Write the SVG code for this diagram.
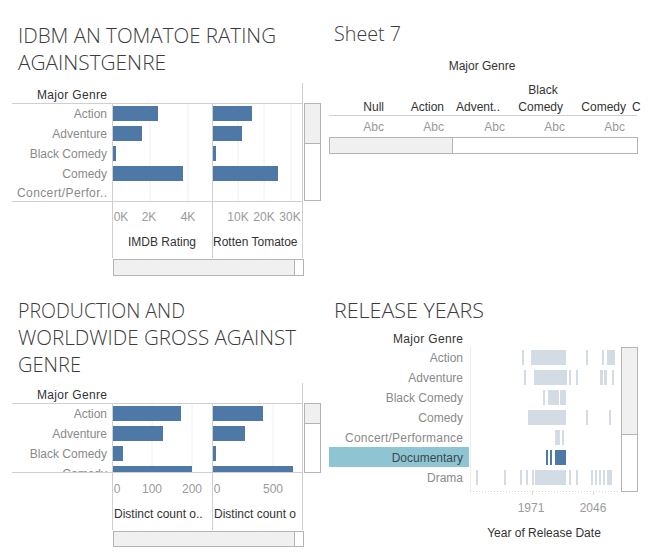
<svg xmlns="http://www.w3.org/2000/svg" width="649" height="559" viewBox="0 0 649 559">
<style>
text{font-family:"Liberation Sans",Arial,sans-serif;font-size:12px}
.title{font-family:"Open Sans","Liberation Sans",Arial,sans-serif;font-weight:300;font-size:21px;fill:#3c3c3c}
.hdr{fill:#333}
.row{fill:#8a8a8a;text-anchor:end}
.ax{fill:#9a9a9a;text-anchor:middle}
.abc{fill:#9a9a9a;text-anchor:end}
.div{stroke:#cfcfcf;stroke-width:1;fill:none}
.grid{stroke:#f0f0f0;stroke-width:1}
.bar{fill:#4e79a7}
.lb{fill:#d3dce4}
.sb{fill:#fff;stroke:#b4b4b4;stroke-width:1}
.th{fill:#f0f0f0;stroke:#b4b4b4;stroke-width:1}
</style>
<defs>
<clipPath id="cpTL"><rect x="213" y="225" width="89.5" height="30"/></clipPath>
<clipPath id="cpBLrows"><rect x="0" y="404" width="303" height="68"/></clipPath>
<clipPath id="cpBL"><rect x="213" y="500" width="89.5" height="30"/></clipPath>
</defs>
<rect width="649" height="559" fill="#fff"/>

<g id="titles">
<text class="title" x="18" y="43" textLength="258" lengthAdjust="spacingAndGlyphs">IDBM AN TOMATOE RATING</text>
<text class="title" x="18" y="70" textLength="148" lengthAdjust="spacingAndGlyphs">AGAINSTGENRE</text>
<text class="title" x="334" y="41" textLength="67" lengthAdjust="spacingAndGlyphs">Sheet 7</text>
<text class="title" x="18" y="318" textLength="167" lengthAdjust="spacingAndGlyphs">PRODUCTION AND</text>
<text class="title" x="18" y="345" textLength="278" lengthAdjust="spacingAndGlyphs">WORLDWIDE GROSS AGAINST</text>
<text class="title" x="18" y="372" textLength="63" lengthAdjust="spacingAndGlyphs">GENRE</text>
<text class="title" x="334" y="318" textLength="150" lengthAdjust="spacingAndGlyphs">RELEASE YEARS</text>
</g>

<g id="chart-imdb-tomato">
<line class="grid" x1="150" y1="103" x2="150" y2="201"/>
<line class="grid" x1="188" y1="103" x2="188" y2="201"/>
<line class="grid" x1="238" y1="103" x2="238" y2="201"/>
<line class="grid" x1="264" y1="103" x2="264" y2="201"/>
<line class="grid" x1="291" y1="103" x2="291" y2="201"/>
<text class="hdr" x="107" y="99" text-anchor="end" textLength="70">Major Genre</text>
<line class="div" x1="12" y1="103.5" x2="303" y2="103.5"/>
<line class="div" x1="12" y1="201.5" x2="303" y2="201.5"/>
<line class="div" x1="112.5" y1="103" x2="112.5" y2="258"/>
<line class="div" x1="212.5" y1="103" x2="212.5" y2="258"/>
<line class="div" x1="302.5" y1="83" x2="302.5" y2="258"/>
<text class="row" x="107" y="118">Action</text>
<text class="row" x="107" y="138">Adventure</text>
<text class="row" x="107" y="158">Black Comedy</text>
<text class="row" x="107" y="178">Comedy</text>
<text class="row" x="107" y="197" textLength="90">Concert/Perfor..</text>
<rect class="bar" x="113" y="106" width="45" height="15"/>
<rect class="bar" x="113" y="126" width="29" height="15"/>
<rect class="bar" x="113" y="146" width="3" height="15"/>
<rect class="bar" x="113" y="166" width="70" height="15"/>
<rect class="bar" x="213" y="106" width="39" height="15"/>
<rect class="bar" x="213" y="126" width="29" height="15"/>
<rect class="bar" x="213" y="146" width="3" height="15"/>
<rect class="bar" x="213" y="166" width="65" height="15"/>
<text class="ax" x="121" y="221">0K</text>
<text class="ax" x="149" y="221">2K</text>
<text class="ax" x="188" y="221">4K</text>
<text class="ax" x="238" y="221">10K</text>
<text class="ax" x="264" y="221">20K</text>
<text class="ax" x="290" y="221">30K</text>
<text class="hdr" x="162" y="246" text-anchor="middle">IMDB Rating</text>
<text class="hdr" x="213" y="246" clip-path="url(#cpTL)">Rotten Tomatoe</text>
<rect class="sb" x="113.5" y="259.5" width="190" height="16"/>
<rect class="th" x="113.5" y="259.5" width="181" height="16"/>
<rect class="sb" x="304.5" y="103.5" width="16" height="97"/>
<rect class="th" x="304.5" y="103.5" width="16" height="40"/>
</g>

<g id="sheet7">
<text class="hdr" x="482" y="70" text-anchor="middle">Major Genre</text>
<text class="hdr" x="543" y="94" text-anchor="middle">Black</text>
<text class="hdr" x="384" y="111" text-anchor="end">Null</text>
<text class="hdr" x="444" y="111" text-anchor="end">Action</text>
<text class="hdr" x="500" y="111" text-anchor="end">Advent..</text>
<text class="hdr" x="563" y="111" text-anchor="end">Comedy</text>
<text class="hdr" x="626" y="111" text-anchor="end">Comedy</text>
<text class="hdr" x="632" y="111">C</text>
<line class="div" x1="329" y1="115.5" x2="637" y2="115.5"/>
<text class="abc" x="384" y="131">Abc</text>
<text class="abc" x="444" y="131">Abc</text>
<text class="abc" x="505" y="131">Abc</text>
<text class="abc" x="565" y="131">Abc</text>
<text class="abc" x="625" y="131">Abc</text>
<rect class="sb" x="329.5" y="137.5" width="308" height="16"/>
<rect class="th" x="329.5" y="137.5" width="123" height="16"/>
</g>

<g id="chart-production-gross">
<line class="grid" x1="152" y1="403" x2="152" y2="472"/>
<line class="grid" x1="192" y1="403" x2="192" y2="472"/>
<line class="grid" x1="273" y1="403" x2="273" y2="472"/>
<text class="hdr" x="107" y="399" text-anchor="end" textLength="70">Major Genre</text>
<line class="div" x1="12" y1="403.5" x2="303" y2="403.5"/>
<g clip-path="url(#cpBLrows)">
<text class="row" x="107" y="418">Action</text>
<text class="row" x="107" y="438">Adventure</text>
<text class="row" x="107" y="458">Black Comedy</text>
<text class="row" x="107" y="478">Comedy</text>
<rect class="bar" x="113" y="406" width="68" height="15"/>
<rect class="bar" x="113" y="426" width="50" height="15"/>
<rect class="bar" x="113" y="446" width="10" height="15"/>
<rect class="bar" x="113" y="466" width="79" height="15"/>
<rect class="bar" x="213" y="406" width="50" height="15"/>
<rect class="bar" x="213" y="426" width="32" height="15"/>
<rect class="bar" x="213" y="446" width="3" height="15"/>
<rect class="bar" x="213" y="466" width="80" height="15"/>
</g>
<line class="div" x1="12" y1="472.5" x2="303" y2="472.5"/>
<line class="div" x1="112.5" y1="403" x2="112.5" y2="530"/>
<line class="div" x1="212.5" y1="403" x2="212.5" y2="530"/>
<line class="div" x1="302.5" y1="383" x2="302.5" y2="530"/>
<text class="ax" x="117" y="493">0</text>
<text class="ax" x="152" y="493">100</text>
<text class="ax" x="192" y="493">200</text>
<text class="ax" x="217" y="493">0</text>
<text class="ax" x="273" y="493">500</text>
<text class="hdr" x="114" y="518">Distinct count o..</text>
<text class="hdr" x="214" y="518" clip-path="url(#cpBL)">Distinct count o</text>
<rect class="sb" x="113.5" y="531.5" width="190" height="15"/>
<rect class="th" x="113.5" y="531.5" width="181" height="15"/>
<rect class="sb" x="304.5" y="403.5" width="16" height="69"/>
<rect class="th" x="304.5" y="403.5" width="16" height="20"/>
</g>

<g id="chart-release-years">
<text class="hdr" x="463" y="343" text-anchor="end" textLength="70">Major Genre</text>
<rect x="329" y="447" width="140" height="20" fill="#8fc4d3"/>
<text class="row" x="463" y="362">Action</text>
<text class="row" x="463" y="382">Adventure</text>
<text class="row" x="463" y="402">Black Comedy</text>
<text class="row" x="463" y="422">Comedy</text>
<text class="row" x="463" y="442" textLength="118">Concert/Performance</text>
<text class="row" x="463" y="462" style="fill:#3a4a50">Documentary</text>
<text class="row" x="463" y="482">Drama</text>
<line x1="470.5" y1="347" x2="470.5" y2="491" stroke="#ececec"/>
<line x1="470" y1="491.5" x2="620" y2="491.5" stroke="#d8d8d8" stroke-dasharray="1,2"/>
<line x1="532.5" y1="491" x2="532.5" y2="495" stroke="#d8d8d8"/>
<line x1="593.5" y1="491" x2="593.5" y2="495" stroke="#d8d8d8"/>
<g class="lb">
<rect x="522" y="350" width="2" height="15"/><rect x="531" y="350" width="35" height="15"/><rect x="586" y="350" width="2" height="15"/><rect x="602" y="350" width="2" height="15"/><rect x="607" y="350" width="8" height="15"/>
<rect x="524" y="370" width="2" height="15"/><rect x="534" y="370" width="33" height="15"/><rect x="569" y="370" width="2" height="15"/><rect x="576" y="370" width="2" height="15"/><rect x="600" y="370" width="3" height="15"/><rect x="604" y="370" width="3" height="15"/><rect x="612" y="370" width="2" height="15"/>
<rect x="543" y="390" width="2" height="15"/><rect x="548" y="390" width="11" height="15"/><rect x="560" y="390" width="6" height="15"/>
<rect x="528" y="410" width="38" height="15"/><rect x="586" y="410" width="2" height="15"/><rect x="609" y="410" width="2" height="15"/>
<rect x="555" y="430" width="5" height="15"/><rect x="562" y="430" width="2" height="15"/>
<rect x="476" y="470" width="2" height="15"/><rect x="504" y="470" width="2" height="15"/><rect x="520" y="470" width="2" height="15"/><rect x="526" y="470" width="2" height="15"/><rect x="532" y="470" width="2" height="15"/><rect x="535" y="470" width="31" height="15"/><rect x="569" y="470" width="2" height="15"/><rect x="576" y="470" width="2" height="15"/><rect x="591" y="470" width="2" height="15"/><rect x="595" y="470" width="2" height="15"/><rect x="599" y="470" width="2" height="15"/><rect x="603" y="470" width="2" height="15"/><rect x="607" y="470" width="5" height="15"/>
</g>
<g class="bar">
<rect x="546" y="450" width="2" height="15"/><rect x="550" y="450" width="2" height="15"/><rect x="555" y="450" width="11" height="15"/>
</g>
<text class="ax" x="531" y="512">1971</text>
<text class="ax" x="593" y="512">2046</text>
<text class="hdr" x="544" y="537" text-anchor="middle">Year of Release Date</text>
<rect class="sb" x="621.5" y="347.5" width="16" height="144"/>
<rect class="th" x="621.5" y="347.5" width="16" height="87"/>
</g>
</svg>
